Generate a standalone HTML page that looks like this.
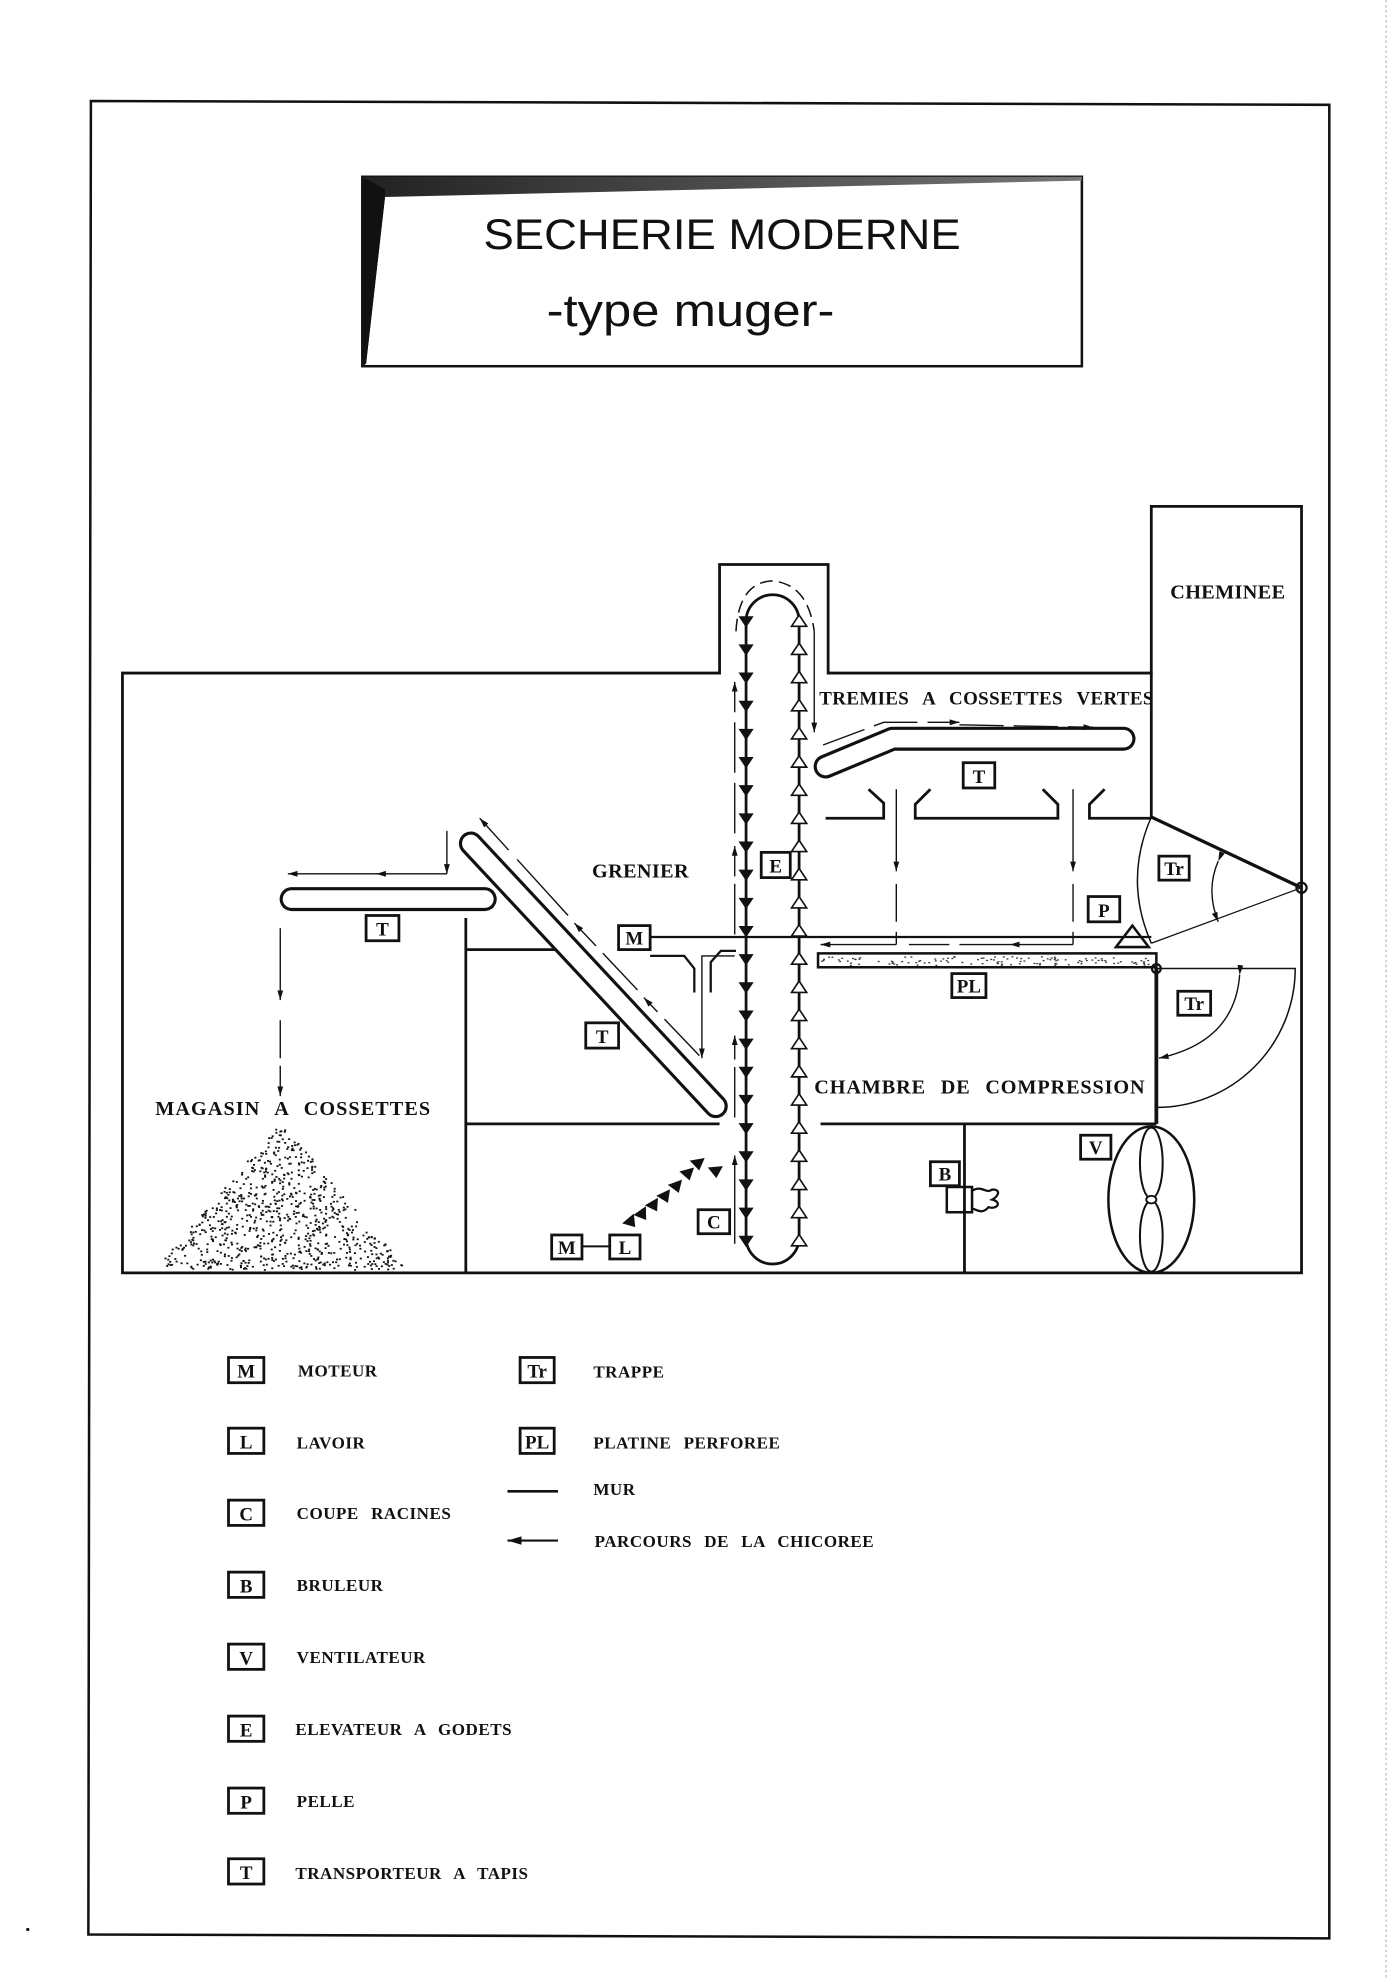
<!DOCTYPE html>
<html><head><meta charset="utf-8"><style>
html,body{margin:0;padding:0;background:#fff;}
svg{display:block;}
text{font-family:"Liberation Serif",serif;font-weight:bold;fill:#111;}
.lg{font-size:13.5px;letter-spacing:0.4px;word-spacing:6px;}
.bx{font-size:15px;text-anchor:middle;}
</style></head><body>
<svg id="s" width="1400" height="1980" viewBox="0 0 1109 1568" preserveAspectRatio="none" xmlns="http://www.w3.org/2000/svg">
<defs>
<marker id="a" viewBox="0 0 10 10" refX="10" refY="5" markerWidth="7" markerHeight="7" orient="auto"><path d="M0,2 L10,5 L0,8 Z" fill="#111"/></marker>
<linearGradient id="g1" x1="0" y1="0" x2="1" y2="0"><stop offset="0" stop-color="#222"/><stop offset="1" stop-color="#777"/></linearGradient>
</defs>
<g fill="none" stroke="#111">
<polygon points="72,80 1053,83 1053,1535 70,1532" stroke-width="2"/>
<line x1="1098" y1="0" x2="1098" y2="1568" stroke="#bbb" stroke-width="1" stroke-dasharray="2 2"/>
<rect x="287" y="140" width="570" height="150" stroke-width="2"/>
</g>
<polygon points="287,140 857,140 857,143 305,156 290,288 287,290" fill="url(#g1)"/>
<polygon points="287,140 305,150 305,156 290,288 287,290" fill="#111"/>
<text x="383" y="197" textLength="378" lengthAdjust="spacingAndGlyphs" style="font-family:'Liberation Sans',sans-serif;font-weight:normal;font-size:34px">SECHERIE MODERNE</text>
<text x="433" y="258" textLength="228" lengthAdjust="spacingAndGlyphs" style="font-family:'Liberation Sans',sans-serif;font-weight:normal;font-size:36px">-type muger-</text>
<circle cx="22" cy="1528" r="1.3" fill="#111"/>

<g fill="none" stroke="#111" stroke-width="2.2">
<path d="M97,1008 L97,533 L570,533 L570,447 L656,447 L656,533 L912,533 L912,401 L1031,401 L1031,1008 Z"/>
<line x1="912" y1="533" x2="912" y2="647"/>
<line x1="369" y1="727" x2="369" y2="1008"/>
<line x1="369" y1="752" x2="441" y2="752"/>
<line x1="369" y1="890" x2="570" y2="890"/>
<line x1="650" y1="890" x2="916" y2="890"/>
<line x1="764" y1="890" x2="764" y2="1008"/>
<path d="M654,648 L700,648 L700,636 L688,625"/>
<path d="M737,625 L725,637 L725,648 L838,648 L838,637 L826,625"/>
<path d="M875,625 L863,637 L863,648 L912,648"/>
<line x1="515" y1="742" x2="912" y2="742" stroke-width="1.8"/>
<path d="M515,757 L542,757 L550,767 L550,786" stroke-width="1.8"/>
<path d="M583,753 L571,753 L563,762 L563,786" stroke-width="1.8"/>
<line x1="912" y1="647" x2="1031" y2="703" stroke-width="2.6"/>
<line x1="912" y1="747" x2="1031" y2="703" stroke-width="1"/>
<path d="M912,647 Q890,697 912,747" stroke-width="1.2"/>
<circle cx="1031" cy="703" r="4" stroke-width="1.8"/>
<line x1="916" y1="767" x2="916" y2="890" stroke-width="3"/>
<path d="M916,767 L1026,767 A110,110 0 0 1 916,877" stroke-width="1.2"/>
<circle cx="916" cy="767" r="3.5" stroke-width="1.8"/>
<rect x="648" y="755" width="268" height="11" stroke-width="2"/>
<polygon points="884,750 897,733 910,750" stroke-width="2"/>
<ellipse cx="912" cy="950" rx="34" ry="58" stroke-width="2"/>
<ellipse cx="912" cy="921" rx="9" ry="28" stroke-width="1.6"/>
<ellipse cx="912" cy="979" rx="9" ry="28" stroke-width="1.6"/>
<ellipse cx="912" cy="950" rx="4" ry="3" stroke-width="1.5" fill="#fff"/>
<rect x="750" y="940" width="20" height="20" stroke-width="2"/>
<path d="M770,943 C778,938 781,946 786,942 C794,942 790,948 786,950 C794,952 790,958 783,956 C778,962 774,958 770,957" stroke-width="1.8"/>
<path d="M591,492 A21,21 0 0 1 633,492 L633,980 A21,21 0 0 1 591,980 Z" stroke-width="2.2"/>
<path d="M583,500 Q585,462 611,460 Q640,462 645,500" stroke-width="1.2" stroke-dasharray="10 5"/>
</g>

<g stroke-linecap="round" fill="none">
<line x1="231" y1="712" x2="384" y2="712" stroke="#111" stroke-width="19"/>
<line x1="231" y1="712" x2="384" y2="712" stroke="#fff" stroke-width="14"/>
<line x1="373" y1="668" x2="567" y2="876" stroke="#111" stroke-width="19"/>
<line x1="373" y1="668" x2="567" y2="876" stroke="#fff" stroke-width="14"/>
<path d="M654,607 L707,585 L890,585" stroke="#111" stroke-width="19" stroke-linejoin="round"/>
<path d="M654,607 L707,585 L890,585" stroke="#fff" stroke-width="14" stroke-linejoin="round"/>
</g>

<g fill="none" stroke="#111" stroke-width="1.1">
<path d="M354,658 L354,692" marker-end="url(#a)"/>
<path d="M354,692 L298,692" marker-end="url(#a)"/>
<path d="M300,692 L228,692" marker-end="url(#a)"/>
<path d="M222,735 L222,792" marker-end="url(#a)"/>
<path d="M222,808 L222,868" marker-end="url(#a)" stroke-dasharray="30 6"/>
<path d="M554,836 L510,790" stroke-dasharray="40 8" marker-end="url(#a)"/>
<path d="M505,784 L455,731" stroke-dasharray="40 8" marker-end="url(#a)"/>
<path d="M450,725 L380,648" stroke-dasharray="60 10" marker-end="url(#a)"/>
<path d="M582,757 L556,757 L556,838" marker-end="url(#a)"/>
<path d="M582,985 L582,960" />
<path d="M582,960 L582,915" marker-end="url(#a)"/>
<path d="M582,885 L582,820" stroke-dasharray="40 6" marker-end="url(#a)"/>
<path d="M582,740 L582,670" stroke-dasharray="40 6" marker-end="url(#a)"/>
<path d="M582,660 L582,540" stroke-dasharray="40 8" marker-end="url(#a)"/>
<path d="M645,500 L645,580" marker-end="url(#a)"/>
<path d="M652,590 L700,572 L760,572" stroke-dasharray="35 8" marker-end="url(#a)"/>
<path d="M760,574 L866,576" stroke-dasharray="35 8" marker-end="url(#a)"/>
<path d="M710,625 L710,690" marker-end="url(#a)"/>
<path d="M710,700 L710,748" stroke-dasharray="30 8"/>
<path d="M850,625 L850,690" marker-end="url(#a)"/>
<path d="M850,700 L850,748" stroke-dasharray="30 8"/>
<path d="M850,748 L800,748" marker-end="url(#a)"/>
<path d="M800,748 L720,748 " stroke-dasharray="40 8"/>
<path d="M710,748 L650,748" marker-end="url(#a)"/>
<path d="M965,682 Q955,705 965,730" marker-start="url(#a)" marker-end="url(#a)"/>
<path d="M982,772 Q978,825 918,838" marker-start="url(#a)" marker-end="url(#a)"/>
<line x1="461" y1="987" x2="483" y2="987" stroke-width="1.6"/>
<line x1="402" y1="1181" x2="442" y2="1181" stroke-width="2"/>
<path d="M442,1220 L402,1220" stroke-width="1.6" marker-end="url(#a)"/>
</g>

<g id="dyn"></g>

<g fill="#fff" stroke="#111" stroke-width="2.2">
<rect x="290" y="725" width="26" height="20"/>
<rect x="464" y="810" width="26" height="20"/>
<rect x="763" y="604" width="25" height="20"/>
<rect x="603" y="675" width="23" height="20"/>
<rect x="490" y="733" width="25" height="19"/>
<rect x="437" y="978" width="24" height="19"/>
<rect x="483" y="978" width="24" height="19"/>
<rect x="553" y="958" width="25" height="19"/>
<rect x="737" y="920" width="23" height="19"/>
<rect x="856" y="899" width="24" height="19"/>
<rect x="862" y="710" width="25" height="20"/>
<rect x="918" y="678" width="24" height="19"/>
<rect x="933" y="785" width="26" height="19"/>
<rect x="754" y="771" width="27" height="19"/>
<rect x="181" y="1075" width="28" height="20"/>
<rect x="181" y="1131" width="28" height="20"/>
<rect x="181" y="1188" width="28" height="20"/>
<rect x="181" y="1245" width="28" height="20"/>
<rect x="181" y="1302" width="28" height="20"/>
<rect x="181" y="1359" width="28" height="20"/>
<rect x="181" y="1416" width="28" height="20"/>
<rect x="181" y="1472" width="28" height="20"/>
<rect x="412" y="1075" width="27" height="20"/>
<rect x="412" y="1131" width="27" height="20"/>
</g>
<g class="bx">
<text x="303" y="741">T</text><text x="477" y="826">T</text><text x="775.5" y="620">T</text>
<text x="614.5" y="691">E</text><text x="502.5" y="748">M</text><text x="449" y="993">M</text>
<text x="495" y="993">L</text><text x="565.5" y="973">C</text><text x="748.5" y="935">B</text>
<text x="868" y="914">V</text><text x="874.5" y="726">P</text><text x="930" y="693">Tr</text>
<text x="946" y="800">Tr</text><text x="767.5" y="786">PL</text>
<text x="195" y="1091">M</text><text x="195" y="1147">L</text><text x="195" y="1204">C</text>
<text x="195" y="1261">B</text><text x="195" y="1318">V</text><text x="195" y="1375">E</text>
<text x="195" y="1432">P</text><text x="195" y="1488">T</text>
<text x="425.5" y="1091">Tr</text><text x="425.5" y="1147">PL</text>
</g>

<g style="font-weight:normal;font-size:16px;letter-spacing:0.3px;word-spacing:7px">
<text x="927" y="474">CHEMINEE</text>
<text x="649" y="558" style="font-size:15px">TREMIES A COSSETTES VERTES</text>
<text x="469" y="695">GRENIER</text>
<text x="123" y="883" textLength="218">MAGASIN A COSSETTES</text>
<text x="645" y="866" textLength="262">CHAMBRE DE COMPRESSION</text>
</g>

<g class="lg">
<text x="236" y="1090">MOTEUR</text>
<text x="235" y="1147">LAVOIR</text>
<text x="235" y="1203">COUPE RACINES</text>
<text x="235" y="1260">BRULEUR</text>
<text x="235" y="1317">VENTILATEUR</text>
<text x="234" y="1374">ELEVATEUR A GODETS</text>
<text x="235" y="1431">PELLE</text>
<text x="234" y="1488">TRANSPORTEUR A TAPIS</text>
<text x="470" y="1091">TRAPPE</text>
<text x="470" y="1147">PLATINE PERFOREE</text>
<text x="470" y="1184">MUR</text>
<text x="471" y="1225">PARCOURS DE LA CHICOREE</text>
</g>
</svg>
<script>
(function(){
var ns="http://www.w3.org/2000/svg",g=document.getElementById("dyn");
function el(t,a){var e=document.createElementNS(ns,t);for(var k in a)e.setAttribute(k,a[k]);g.appendChild(e);return e;}
for(var y=492;y<=985;y+=22.3){
 el("path",{d:"M585,"+(y-4)+" L597,"+(y-4)+" L591,"+(y+5)+" Z",fill:"#111"});
 el("path",{d:"M627,"+(y+4)+" L639,"+(y+4)+" L633,"+(y-5)+" Z",fill:"#fff",stroke:"#111","stroke-width":"1.3"});
}
var pts=[[500,968],[509,962],[518,955],[527,948],[536,940],[545,930],[553,922],[567,928]];
pts.forEach(function(p,i){el("path",{d:"M"+(p[0]-6)+","+(p[1]-4)+" L"+(p[0]+6)+","+(p[1]-4)+" L"+p[0]+","+(p[1]+5)+" Z",fill:"#111",transform:"rotate("+(-40+i*5)+" "+p[0]+" "+p[1]+")"});});
var s=12345;function r(){s=(s*16807)%2147483647;return s/2147483647;}
for(var i=0;i<800;i++){var h=r(),yy=888+117*Math.sqrt(h),half=(yy-888)*100/117,xx=222+(r()*2-1)*half;
 el("rect",{x:xx.toFixed(1),y:yy.toFixed(1),width:"1.6",height:"1.4",fill:"#111"});}
for(var j=0;j<120;j++){el("rect",{x:(650+r()*264).toFixed(1),y:(757+r()*7).toFixed(1),width:"1.5",height:"1",fill:"#333"});}
})();
</script>
</body></html>
